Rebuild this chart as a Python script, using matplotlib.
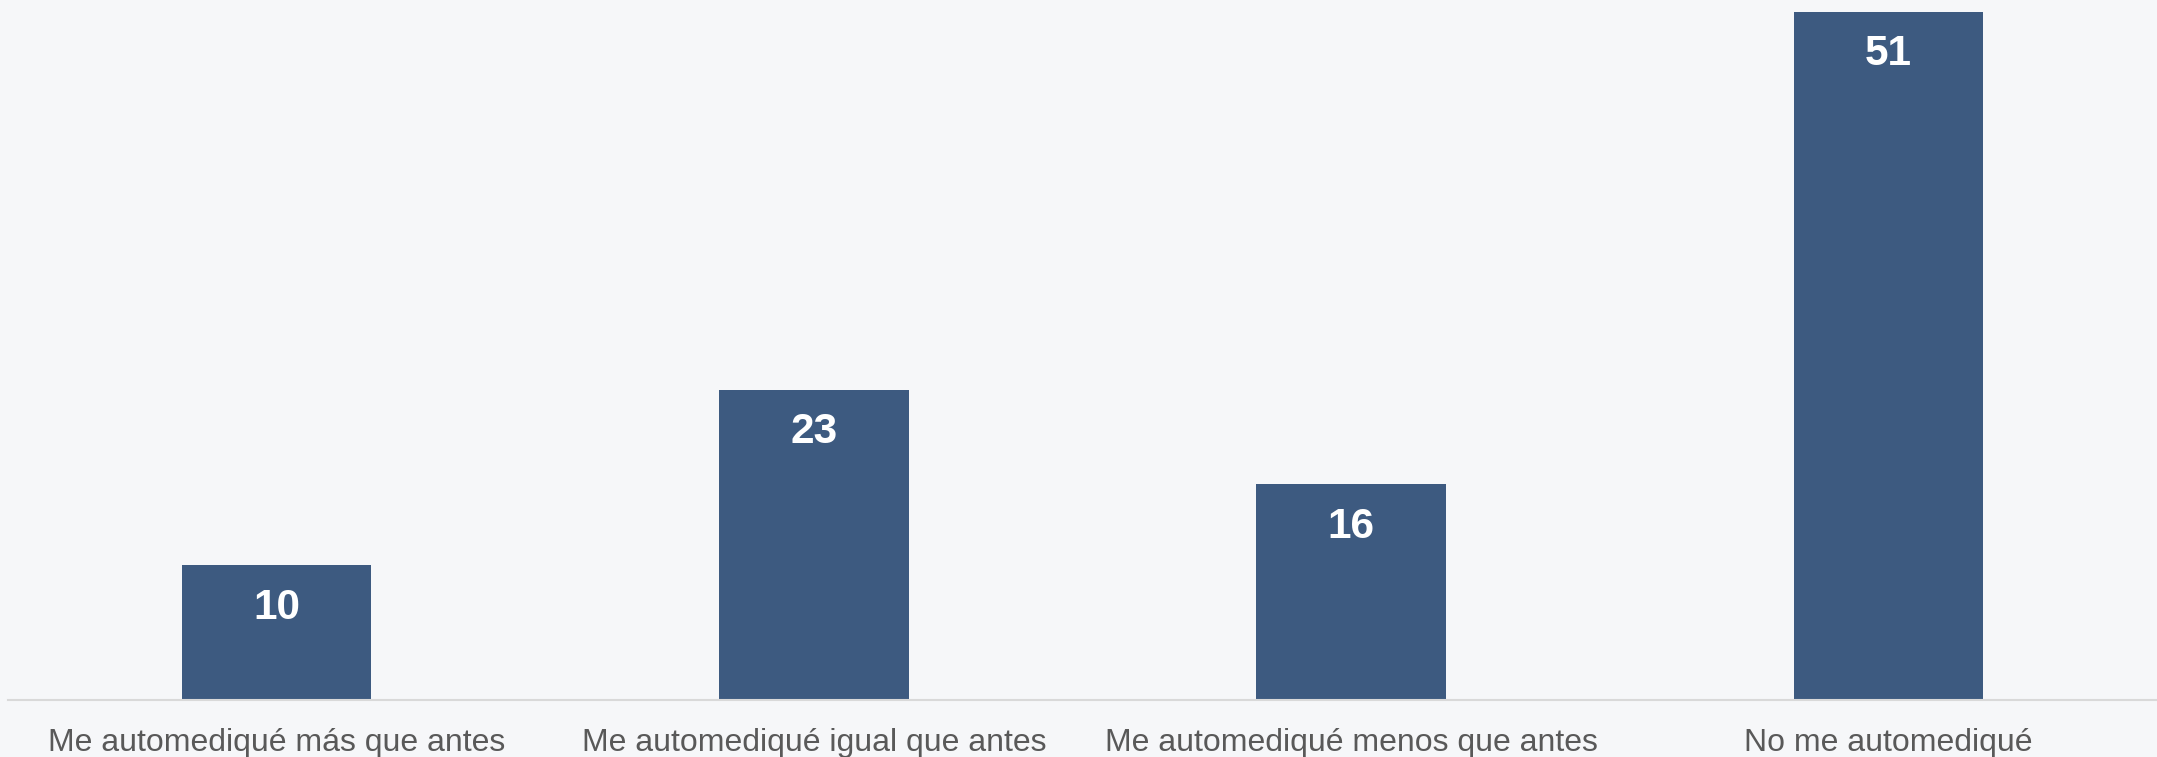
import numpy as np
import matplotlib.pyplot as plt

## the data
categorias = ['Me automediqué más que antes', 'Me automediqué igual que antes',
              'Me automediqué menos que antes', 'No me automediqué']
valores = [10, 23, 16, 51]

bg = '#f6f7f9'
barcolor = '#3d5a80'

fig = plt.figure(figsize=(21.57, 7.57), dpi=100, facecolor=bg)
ax = fig.add_axes([8 / 2157, 1 - 700 / 757, 1 - 8 / 2157, 700 / 757])
ax.set_facecolor(bg)

ind = np.arange(len(categorias))
width = 0.353
rects = ax.bar(ind, valores, width, color=barcolor, zorder=2)

# value labels inside the bars
for r, v in zip(rects, valores):
    ax.annotate(str(v), (r.get_x() + r.get_width() / 2, r.get_height()),
                xytext=(0, -38.7), textcoords='offset points',
                ha='center', va='baseline', color='white',
                fontsize=30.5, fontweight='bold', family='Liberation Sans')

# axes and labels
ax.set_xlim(-0.5, len(ind) - 0.5)
ax.set_ylim(0, 700 / 13.5)
ax.set_yticks([])
ax.set_xticks(ind)
labels = ax.set_xticklabels(categorias, fontsize=23, color='#595959', family='Liberation Sans')
plt.setp(labels, va='baseline')
ax.tick_params(axis='x', length=0, pad=36.5)
for s in ['top', 'right', 'left']:
    ax.spines[s].set_visible(False)
ax.spines['bottom'].set_color('#d9d9d9')
ax.spines['bottom'].set_linewidth(1.5)

fig.savefig('out.png', dpi=100, facecolor=bg)
